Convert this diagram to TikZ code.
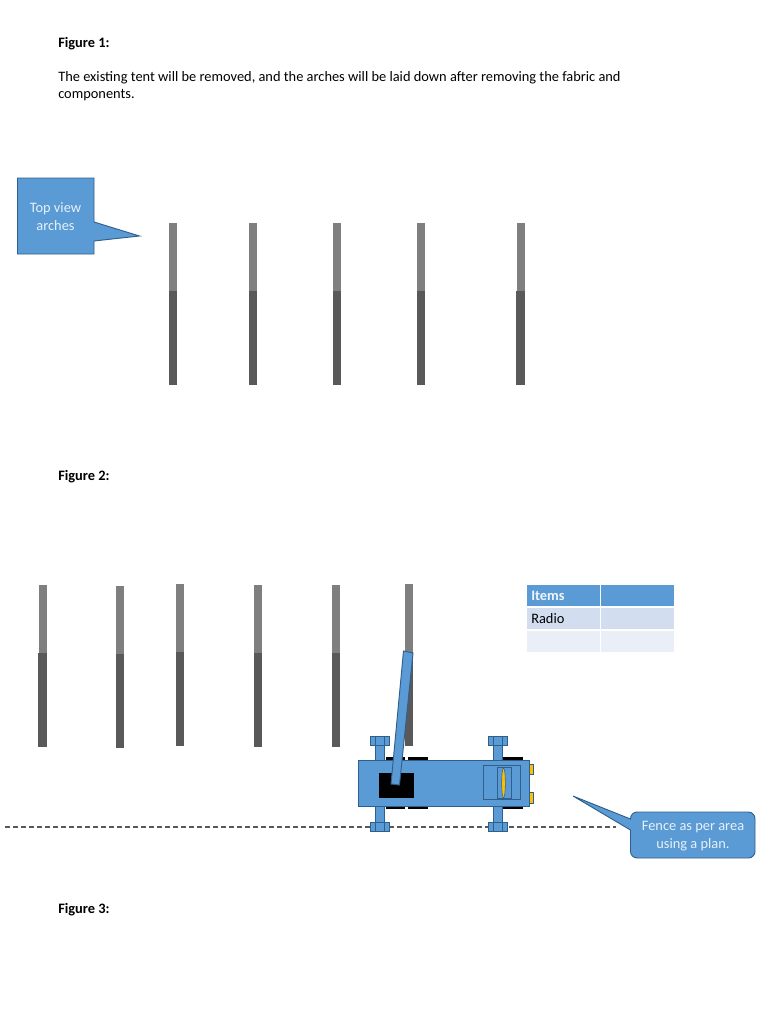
\documentclass[tikz,border=0pt]{standalone}
\usepackage{fontspec}
\setmainfont{Carlito}
\definecolor{bluefill}{HTML}{5B9BD5}
\definecolor{blueline}{HTML}{2F5F8A}
\definecolor{archlight}{HTML}{7F7F7F}
\definecolor{archdark}{HTML}{595959}
\definecolor{rowa}{HTML}{D2DEEF}
\definecolor{rowb}{HTML}{E9EEF7}
\definecolor{lamp}{HTML}{FFC000}
\newcommand{\archat}[3]{%
  \fill[archlight] (#1-4,#2) rectangle (#1+4,#2+68);
  \fill[archdark] (#1-4.3,#2+68) rectangle (#1+4.3,#3);
}
\newcommand{\axle}[1]{%
  \draw[partline] (#1-4.5,738) rectangle (#1+4.5,760);
  \draw[partline] (#1-9.5,736) rectangle (#1+9.5,745);
  \draw[partline] (#1-4.5,736) -- (#1-4.5,745) (#1+4.5,736) -- (#1+4.5,745);
  \draw[partline] (#1-4.5,806) rectangle (#1+4.5,826);
  \draw[partline] (#1-9.5,822) rectangle (#1+9.5,831);
  \draw[partline] (#1-4.5,822) -- (#1-4.5,831) (#1+4.5,822) -- (#1+4.5,831);
}
\tikzset{
  x=0.75pt,y=-0.75pt,
  partline/.style={draw=blueline,fill=bluefill,line width=0.7pt},
  bodytext/.style={anchor=west,inner sep=0pt,font=\fontsize{10.8pt}{13pt}\selectfont},
  headtext/.style={bodytext,font=\fontsize{10.8pt}{13pt}\selectfont\bfseries},
  calltext/.style={align=center,inner sep=0pt,font=\fontsize{10.8pt}{13.5pt}\selectfont\color{white!85!bluefill}},
  tyre/.style={fill=black},
}
\begin{document}
\begin{tikzpicture}
\useasboundingbox (0,0) rectangle (768,1024);
\fill[white] (0,0) rectangle (768,1024);

\node[headtext] (fig1) at (58,44) {Figure 1:};
\node[bodytext] (line1) at (58,78) {The existing tent will be removed, and the arches will be laid down after removing the fabric and};
\node[bodytext] (line2) at (58,95) {components.};
\node[headtext] (fig2) at (58,477) {Figure 2:};
\node[headtext] (fig3) at (58,910) {Figure 3:};

% callout 1
\draw[draw=blueline,fill=bluefill,line width=0.7pt]
  (17.5,178) -- (94,178) -- (94,222) -- (139.5,236) -- (94,241) -- (94,254) -- (17.5,254) -- cycle;
\node[calltext] (topview) at (55.5,217) {Top view\\arches};

% arches figure 1
\archat{173}{223}{385}
\archat{253}{223}{385}
\archat{337}{223}{385}
\archat{421}{223}{385}
\archat{520.5}{223}{385}

% arches figure 2
\archat{42.5}{585}{747}
\archat{120}{586}{748}
\archat{180}{584}{746}
\archat{258}{585}{747}
\archat{336}{585}{747}
\archat{409}{584}{746}

% table
\fill[bluefill] (527,585) rectangle (599.5,606);
\fill[bluefill] (601,585) rectangle (674,606);
\fill[rowa] (527,608) rectangle (599.5,629);
\fill[rowa] (601,608) rectangle (674,629);
\fill[rowb] (527,630.5) rectangle (599.5,652);
\fill[rowb] (601,630.5) rectangle (674,652);
\node[headtext,text=white!90!bluefill] (items) at (531,595.5) {Items};
\node[bodytext] (radio) at (531,618.5) {Radio};

% fence
\coordinate (fenceA) at (5,826.5);
\coordinate (fenceB) at (616,826.5);
\draw[draw=archdark,line width=1.5pt,dash pattern=on 3.9pt off 2.1pt] (fenceA) -- (fenceB);

% vehicle
\fill[tyre] (386,757) rectangle (405,760);
\fill[tyre] (408,757) rectangle (428,760);
\fill[tyre] (503,757) rectangle (523,760);
\fill[tyre] (386,806) rectangle (405,809);
\fill[tyre] (408,806) rectangle (428,809);
\fill[tyre] (503,806) rectangle (523,809);
\axle{379.5}
\axle{497.5}
\draw[draw=blueline,fill=lamp,line width=0.4pt] (529,764) rectangle (533,774);
\draw[draw=blueline,fill=lamp,line width=0.4pt] (529,792) rectangle (533,803);
\draw[partline] (358,760) rectangle (529,806);
\fill[black] (379,773) rectangle (414,798);
\draw[partline] (483,765) rectangle (520,799);
\draw[partline] (497,767) rectangle (511,798);
\draw[draw=blueline,fill=lamp,line width=0.4pt] (503.5,783) ellipse [x radius=1.8,y radius=15];
\draw[partline] (403.5,651) -- (413,653) -- (399.5,785) -- (391,784) -- cycle;

% callout 2
\draw[draw=blueline,fill=bluefill,line width=0.7pt]
  (573,796) -- (630.5,819)
  [rounded corners=5pt] -- (630.5,812) -- (755,812) -- (755,858) -- (630.5,858)
  [sharp corners] -- (630.5,830) -- cycle;
\node[calltext] (fencetext) at (693,836) {Fence as per area\\using a plan.};
\end{tikzpicture}
\end{document}
